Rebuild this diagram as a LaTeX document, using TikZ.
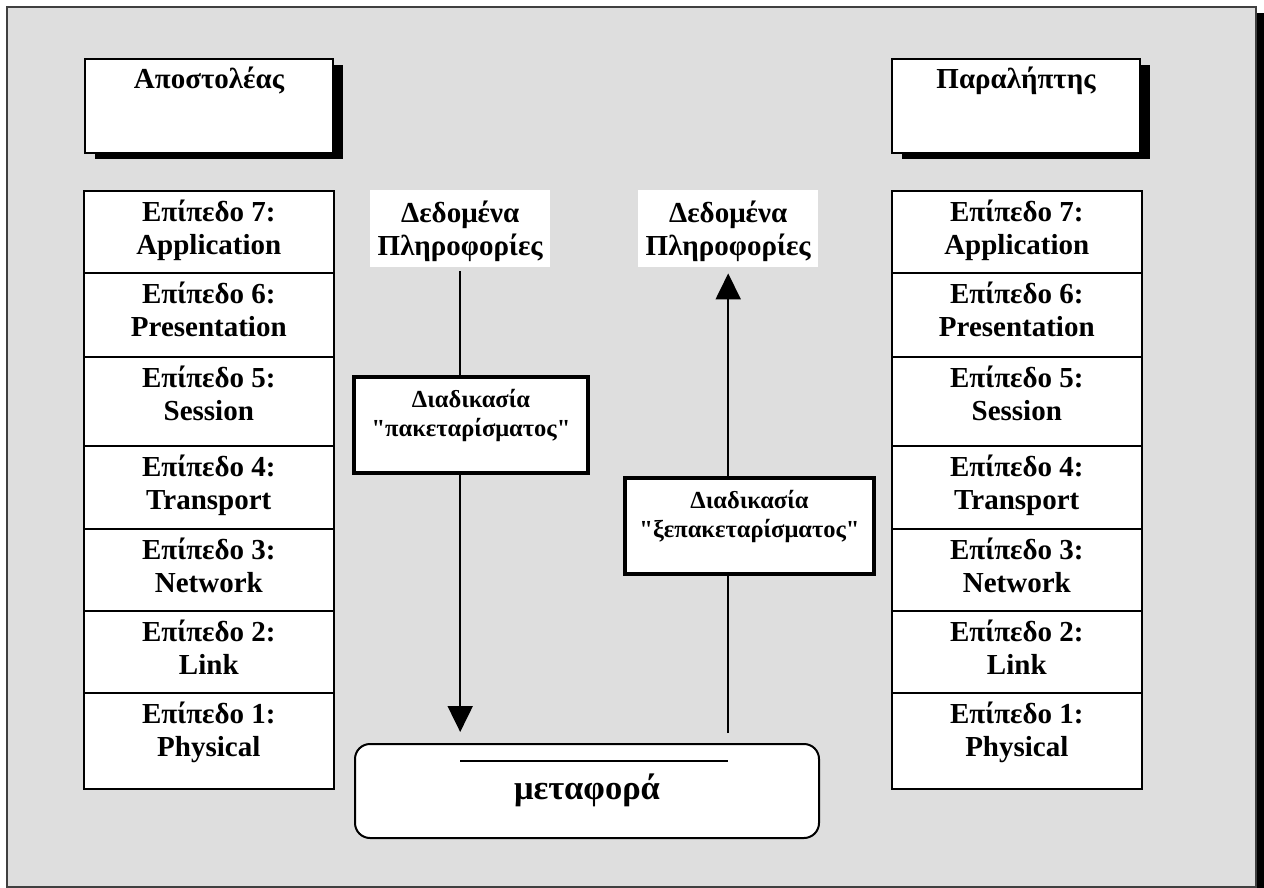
\documentclass[tikz,border=0pt]{standalone}
\usepackage{fontspec}
% straight ASCII quotes are wanted, so the TeX ligature mapping is switched off
\setmainfont{Liberation Serif}[Ligatures=TeXOff]
\usetikzlibrary{arrows.meta,shadows}
\definecolor{panelgray}{HTML}{DEDEDE}
\definecolor{framegray}{HTML}{404040}

\begin{document}
\begin{tikzpicture}[x=1pt,y=-1pt,
  layercell/.style={rectangle, draw=black, line width=1.6pt, fill=white,
    minimum width=250pt, inner sep=0pt, anchor=north west},
  layertext/.style={font=\fontsize{29}{33}\selectfont\bfseries, align=center, inner sep=0pt},
  rolebox/.style={rectangle, draw=black, line width=2pt, fill=white,
    minimum width=248pt, minimum height=94pt, inner sep=0pt, anchor=north west,
    drop shadow={shadow xshift=10pt, shadow yshift=-6pt, fill=black, opacity=1}},
  roletext/.style={font=\fontsize{29}{33}\selectfont\bfseries, inner sep=0pt, anchor=base},
  databox/.style={rectangle, fill=white, minimum width=180pt, minimum height=77pt,
    inner sep=0pt, anchor=north west},
  datatext/.style={font=\fontsize{29}{33}\selectfont\bfseries, align=center, inner sep=0pt},
  procbox/.style={rectangle, draw=black, line width=4pt, fill=white,
    minimum height=96pt, inner sep=0pt, anchor=north west},
  proctext/.style={font=\fontsize{24.5}{29}\selectfont\bfseries, align=center, inner sep=0pt},
  flowline/.style={line width=2pt},
  flow/.style={line width=2pt, -{Triangle[width=25pt,length=26pt]}}
]
% page and panel
\useasboundingbox (0,0) rectangle (1264,888);
\fill[white] (0,0) rectangle (1264,888);
\fill[black] (1256,13) rectangle (1264,888);
\draw[framegray, line width=1.5pt, fill=panelgray] (7,7) rectangle (1256,887);

% sender and receiver
\node[rolebox] (snd) at (84,58) {};
\node[roletext] (sndt) at ([yshift=-31pt]snd.north) {Αποστολέας};
\node[rolebox] (rcv) at (891,58) {};
\node[roletext] (rcvt) at ([yshift=-31pt]rcv.north) {Παραλήπτης};

% OSI layer stacks
\foreach \n/\top/\h/\name in {7/190/82/Application, 6/272/84/Presentation,
    5/356/89/Session, 4/445/83/Transport, 3/528/82/Network, 2/610/82/Link,
    1/692/96/Physical} {
  \node[layercell, minimum height=\h pt] (L\n) at (83,\top) {};
  \node[layertext] (Lt\n) at ([yshift=-41pt]L\n.north) {\strut Επίπεδο \n:\\\strut \name};
  \node[layercell, minimum height=\h pt] (R\n) at (891,\top) {};
  \node[layertext] (Rt\n) at ([yshift=-41pt]R\n.north) {\strut Επίπεδο \n:\\\strut \name};
}

% data at both ends
\node[databox] (dl) at (370,190) {};
\node[datatext] (dlt) at ([yshift=-42pt]dl.north) {\strut Δεδομένα\\\strut Πληροφορίες};
\node[databox] (dr) at (638,190) {};
\node[datatext] (drt) at ([yshift=-42pt]dr.north) {\strut Δεδομένα\\\strut Πληροφορίες};

% encapsulation / decapsulation
\node[procbox, minimum width=234pt] (pk) at (352,375) {};
\node[proctext] (pkt) at ([yshift=-41pt]pk.north)
  {\strut Διαδικασία\\\strut "πακεταρίσματος"};
\node[procbox, minimum width=249pt] (up) at (623,476) {};
\node[proctext] (upt) at ([yshift=-41pt]up.north)
  {\strut Διαδικασία\\\strut "ξεπακεταρίσματος"};

% transport medium
\node[rectangle, rounded corners=15pt, draw=black, line width=2pt, fill=white,
  minimum width=464pt, minimum height=94pt, inner sep=0pt, anchor=north west] (tr) at (354,743) {};
\node[font=\fontsize{34.5}{40}\selectfont\bfseries, inner sep=0pt, anchor=base] (trt)
  at ([yshift=-56pt]tr.north) {μεταφορά};
\coordinate (trline) at (0,761);
\draw[flowline] (dl.south |- trline) -- (dr.south |- trline);

% connectors
\draw[flowline, shorten <=4pt] (dl.south) -- (dl.south |- pk.north);
\draw[flow, shorten >=11pt] (dl.south |- pk.south) -- (dl.south |- tr.north);
\draw[flowline, shorten <=10pt] (dr.south |- tr.north) -- (dr.south |- up.south);
\draw[flow, shorten >=6pt] (dr.south |- up.north) -- (dr.south);
\end{tikzpicture}
\end{document}
